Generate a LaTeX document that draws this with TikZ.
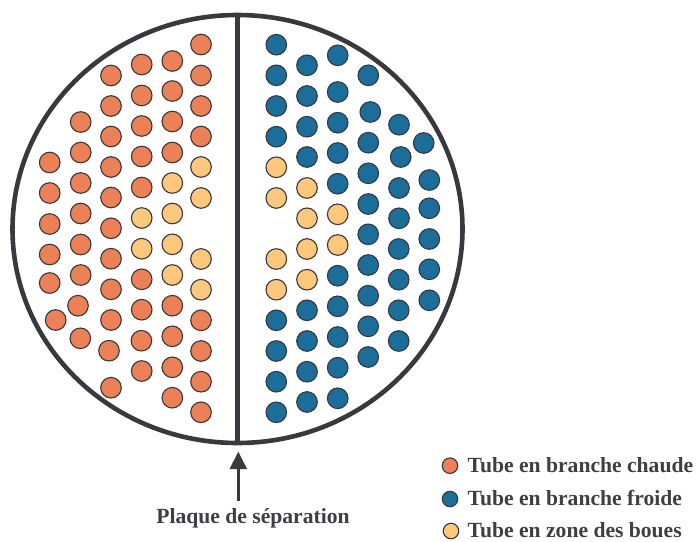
\documentclass[tikz,border=0pt]{standalone}
\usepackage{fontspec}
\setmainfont{Liberation Serif}
\usetikzlibrary{arrows.meta}
\definecolor{inkc}{HTML}{38383E}
\definecolor{txtc}{HTML}{3E3E44}
\definecolor{hotc}{HTML}{EC8157}
\definecolor{coldc}{HTML}{1B6D9A}
\definecolor{mudc}{HTML}{FDC87B}
\tikzset{
  tube/.style={circle,draw=inkc,line width=1.1pt,minimum size=20.6pt,inner sep=0pt,outer sep=0pt},
  hot/.style={tube,fill=hotc},
  cold/.style={tube,fill=coldc},
  mud/.style={tube,fill=mudc},
  keyhot/.style={hot,minimum size=15.5pt},
  keycold/.style={cold,minimum size=15.5pt},
  keymud/.style={mud,minimum size=15.5pt},
  lbl/.style={font=\bfseries\fontsize{21.6}{24}\selectfont,text=txtc,inner sep=0pt,outer sep=0pt},
  shell/.style={draw=inkc,line width=4.6pt},
  plate/.style={draw=inkc,line width=4.8pt},
  pointer/.style={draw=inkc,line width=2.6pt,-{Triangle[length=17.5pt,width=17pt]}}
}
\begin{document}
\begin{tikzpicture}[x=1pt,y=-1pt]
\useasboundingbox (0,0) rectangle (696,541);
\fill[white] (0,0) rectangle (696,541);
% shell and plate
\draw[shell] (237.5,229) ellipse [x radius=225,y radius=214];
\coordinate (platetop) at (237.5,15);
\coordinate (platebot) at (237.5,443);
\draw[plate] (platetop) -- (platebot);
% hot tubes
\foreach \x/\y [count=\i] in {
201/44.5,201/75.5,201/106,201/136.5,
172.3/61,172.3/91,172.3/121.5,172.3/152.5,
141.7/64.5,141.7/95.5,141.7/126,141.7/156.5,141.7/187.5,
111/75.5,111/106,111/136.5,111/167,111/197.5,111/228.3,
80.7/122,80.7/152.5,80.7/183,80.7/213.5,
49.7/162.5,49.7/193,49.7/224,49.7/254.5,49.7/283,
80.7/244.5,80.7/275,78/305.7,55.7/320,80.3/338.3,
111/258.7,111/289.3,111/320,109/350.7,111/387.7,
141.7/279.3,141.7/309.7,141.4/340.7,141.7/371,
172.3/305.7,172.3/336.3,172.3/367.3,172.3/397.7,
201/320.3,201/351,201/381.7,201/412.3}
  \node[hot] (hot\i) at (\x,\y) {};
% cold tubes
\foreach \x/\y [count=\i] in {
276.3/44.7,276.3/75.3,276.3/106,276.3/136.7,
307/65.3,307/96,307/126.7,307/157,
337.7/55.3,337.7/92,337.7/122.7,337.7/153,337.7/183.7,
368.3/75.3,370.3/112,368.3/142.7,368.3/173.3,368.3/204,
399/124.7,400.7/157,399/188,399/218.3,
423.7/143,429.3/180,429.3/208.3,
276.3/320.3,276.3/351,276.3/381.7,276.3/412.3,
307/310.3,307/341,307/371.7,307/402,
337.7/275.7,337.7/306.3,337.7/337,337.7/367.7,337.7/398.3,
368.2/234.3,368.2/265,368.2/295.7,368.2/326.3,368.2/357,
398.7/249,398.7/279.7,398.7/310.3,398.7/341,
429.3/239,429.3/269.3,429.3/300.3}
  \node[cold] (cold\i) at (\x,\y) {};
% mud tubes
\foreach \x/\y [count=\i] in {
201/167,201/198,172.3/183,172.3/213.5,141.7/218,
141.7/248.7,172.3/244.3,172.3/275,201/259,201/289.7,
276.3/167.3,276.3/198,307/188,307/218.3,337.7/214.3,
276.3/259,276.3/289.7,307/249,307/279.7,337.7/245}
  \node[mud] (mud\i) at (\x,\y) {};
% pointer
\node[lbl,anchor=base] (platelabel) at (253,523) {Plaque de séparation};
\coordinate (ptail) at (238.3,501);
\coordinate (ptip) at (238.3,451.7);
\draw[pointer] (ptail) -- (ptip);
% legend
\node[keyhot] (keyA) at (450,465.7) {};
\node[keycold] (keyB) at (450,499) {};
\node[keymud] (keyC) at (451,531) {};
\node[lbl,anchor=base west] (textA) at (467.7,472.3) {Tube en branche chaude};
\node[lbl,anchor=base west] (textB) at (467.7,505) {Tube en branche froide};
\node[lbl,anchor=base west] (textC) at (467.7,537.7) {Tube en zone des boues};
\end{tikzpicture}
\end{document}
